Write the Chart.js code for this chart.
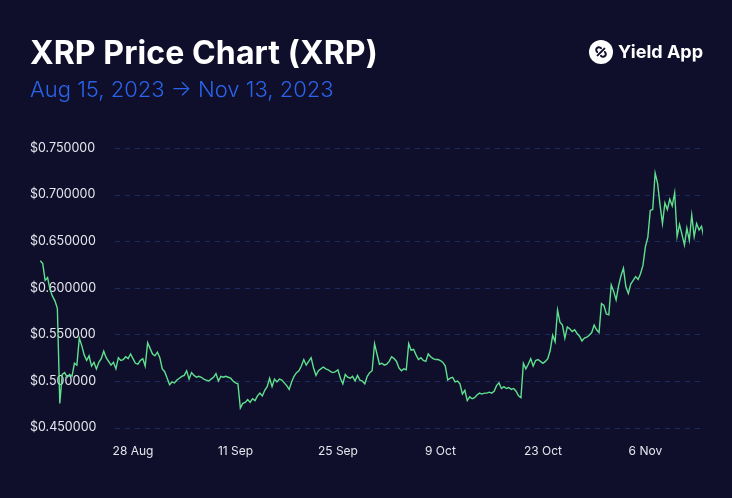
<!DOCTYPE html>
<html>
<head>
<meta charset="utf-8">
<script src="https://cdn.jsdelivr.net/npm/chart.js@4"></script>
<style>
  body { margin: 0; background: #0f0f2b; }
  #wrap { position: relative; width: 732px; height: 498px; background: #0f0f2b; overflow: hidden; }
  #chart { position: absolute; left: 0; top: 0; }
  .title { position: absolute; left: 30px; top: 37px; margin: 0; font: 700 32px/32px Inter, sans-serif; color: #ffffff; letter-spacing: 0.1px; }
  .subtitle { position: absolute; left: 30px; top: 78px; margin: 0; font: 300 22px/23px Inter, sans-serif; color: #2a63ea; }
  .logo { position: absolute; left: 589px; top: 40px; display: flex; align-items: center; }
  .logo span { margin-left: 5px; font: 700 18px/24px Inter, sans-serif; color: #ffffff; }
</style>
</head>
<body>
<div id="wrap">
  <canvas id="chart" width="732" height="498"></canvas>
  <h1 class="title">XRP Price Chart (XRP)</h1>
  <div class="subtitle">Aug 15, 2023 → Nov 13, 2023</div>
  <div class="logo">
    <svg width="24" height="24" viewBox="0 0 24 24">
      <circle cx="12" cy="12" r="12" fill="#ffffff"/>
      <g fill="none" stroke="#0f0f2b" stroke-width="2" stroke-linecap="round">
        <path d="M8.6 15.4 L15.4 8.6"/>
        <path d="M12 8.2 A2.7 2.7 0 1 0 8.2 12"/>
        <path d="M12 15.8 A2.7 2.7 0 1 0 15.8 12"/>
      </g>
    </svg>
    <span>Yield App</span>
  </div>
</div>
<script>
// XRP price in USD, one reading every 8 hours from Aug 15 08:00
const prices = [
  0.629, 0.626, 0.608, 0.611, 0.598, 0.591, 0.586, 0.578, 0.476, 0.507, 0.509, 0.504,
  0.507, 0.505, 0.519, 0.517, 0.546, 0.538, 0.528, 0.522, 0.527, 0.516, 0.520, 0.513,
  0.520, 0.524, 0.532, 0.525, 0.521, 0.517, 0.520, 0.513, 0.525, 0.522, 0.523, 0.526,
  0.524, 0.529, 0.524, 0.519, 0.518, 0.522, 0.524, 0.516, 0.541, 0.535, 0.529, 0.527,
  0.531, 0.525, 0.513, 0.510, 0.503, 0.496, 0.499, 0.498, 0.501, 0.503, 0.505, 0.506,
  0.511, 0.502, 0.509, 0.506, 0.504, 0.505, 0.504, 0.502, 0.501, 0.500, 0.502, 0.504,
  0.508, 0.500, 0.505, 0.504, 0.505, 0.504, 0.503, 0.500, 0.498, 0.497, 0.471, 0.476,
  0.477, 0.480, 0.477, 0.481, 0.479, 0.484, 0.487, 0.484, 0.490, 0.494, 0.503, 0.494,
  0.502, 0.499, 0.502, 0.501, 0.498, 0.495, 0.491, 0.499, 0.505, 0.509, 0.511, 0.516,
  0.523, 0.517, 0.521, 0.525, 0.514, 0.506, 0.511, 0.513, 0.515, 0.513, 0.512, 0.510,
  0.509, 0.510, 0.512, 0.503, 0.497, 0.507, 0.504, 0.503, 0.505, 0.500, 0.506, 0.501,
  0.500, 0.497, 0.505, 0.509, 0.511, 0.540, 0.529, 0.518, 0.519, 0.517, 0.518, 0.521,
  0.526, 0.524, 0.521, 0.514, 0.511, 0.513, 0.512, 0.540, 0.533, 0.534, 0.528, 0.523,
  0.525, 0.522, 0.521, 0.529, 0.526, 0.524, 0.523, 0.523, 0.522, 0.520, 0.516, 0.501,
  0.503, 0.504, 0.499, 0.500, 0.497, 0.486, 0.490, 0.479, 0.483, 0.481, 0.482, 0.485,
  0.487, 0.486, 0.487, 0.487, 0.488, 0.487, 0.489, 0.495, 0.498, 0.492, 0.494, 0.492,
  0.493, 0.491, 0.492, 0.489, 0.484, 0.482, 0.519, 0.513, 0.518, 0.524, 0.516, 0.522,
  0.523, 0.521, 0.519, 0.521, 0.524, 0.533, 0.549, 0.542, 0.576, 0.563, 0.560, 0.546,
  0.558, 0.556, 0.553, 0.555, 0.551, 0.548, 0.543, 0.546, 0.547, 0.549, 0.552, 0.560,
  0.555, 0.552, 0.583, 0.581, 0.572, 0.571, 0.603, 0.596, 0.587, 0.602, 0.613, 0.621,
  0.601, 0.594, 0.604, 0.608, 0.612, 0.609, 0.615, 0.624, 0.644, 0.654, 0.683, 0.684,
  0.723, 0.712, 0.689, 0.669, 0.691, 0.684, 0.695, 0.688, 0.702, 0.655, 0.668, 0.657,
  0.646, 0.664, 0.651, 0.678, 0.655, 0.669, 0.662, 0.666, 0.654
];

// x axis is "days since Aug 15"
const tickDays = [13, 27, 41, 55, 69, 83];
const tickLabels = ["28 Aug", "11 Sep", "25 Sep", "9 Oct", "23 Oct", "6 Nov"];

const FIRST_DAY = 1 / 3;
const STEP_DAYS = 1 / 3;

const points = prices.map((p, i) => ({ x: FIRST_DAY + i * STEP_DAYS, y: p }));

Chart.defaults.font.family = "Inter, sans-serif";

// dashed horizontal lines, they start right of the price labels
const dashedGrid = {
  id: "dashedGrid",
  beforeDatasetsDraw(chart) {
    const { ctx, chartArea, scales } = chart;
    const y = scales.y;
    ctx.save();
    ctx.strokeStyle = "#1c2a62";
    ctx.lineWidth = 1;
    ctx.setLineDash([5, 5]);
    for (const t of y.ticks) {
      const py = Math.round(y.getPixelForValue(t.value)) + 0.5;
      ctx.beginPath();
      ctx.moveTo(115, py);
      ctx.lineTo(chartArea.right, py);
      ctx.stroke();
    }
    ctx.restore();
  }
};

new Chart(document.getElementById("chart"), {
  type: "line",
  data: {
    datasets: [{
      data: points,
      borderColor: "#5fe08e",
      borderWidth: 1.4,
      pointRadius: 0,
      tension: 0,
    }]
  },
  options: {
    responsive: false,
    animation: false,
    devicePixelRatio: 1,
    layout: { padding: { left: 22, right: 29, top: 148, bottom: 30 } },
    plugins: {
      legend: { display: false },
      tooltip: { enabled: false }
    },
    scales: {
      x: {
        type: "linear",
        min: -1.07,
        max: 90.87,
        grid: { display: false },
        border: { display: false },
        afterBuildTicks: (scale) => {
          scale.ticks = tickDays.map(v => ({ value: v }));
        },
        ticks: {
          autoSkip: false,
          maxRotation: 0,
          padding: 9,
          color: "#e6e6ee",
          font: { size: 12 },
          callback: (v) => tickLabels[tickDays.indexOf(v)]
        }
      },
      y: {
        position: "left",
        min: 0.45,
        max: 0.75,
        grid: { display: false },
        border: { display: false },
        ticks: {
          stepSize: 0.05,
          mirror: true,
          padding: 0,
          color: "#e6e6ee",
          font: { size: 12.5 },
          callback: (v) => "$" + v.toFixed(6)
        }
      }
    }
  },
  plugins: [dashedGrid]
});
</script>
</body>
</html>
